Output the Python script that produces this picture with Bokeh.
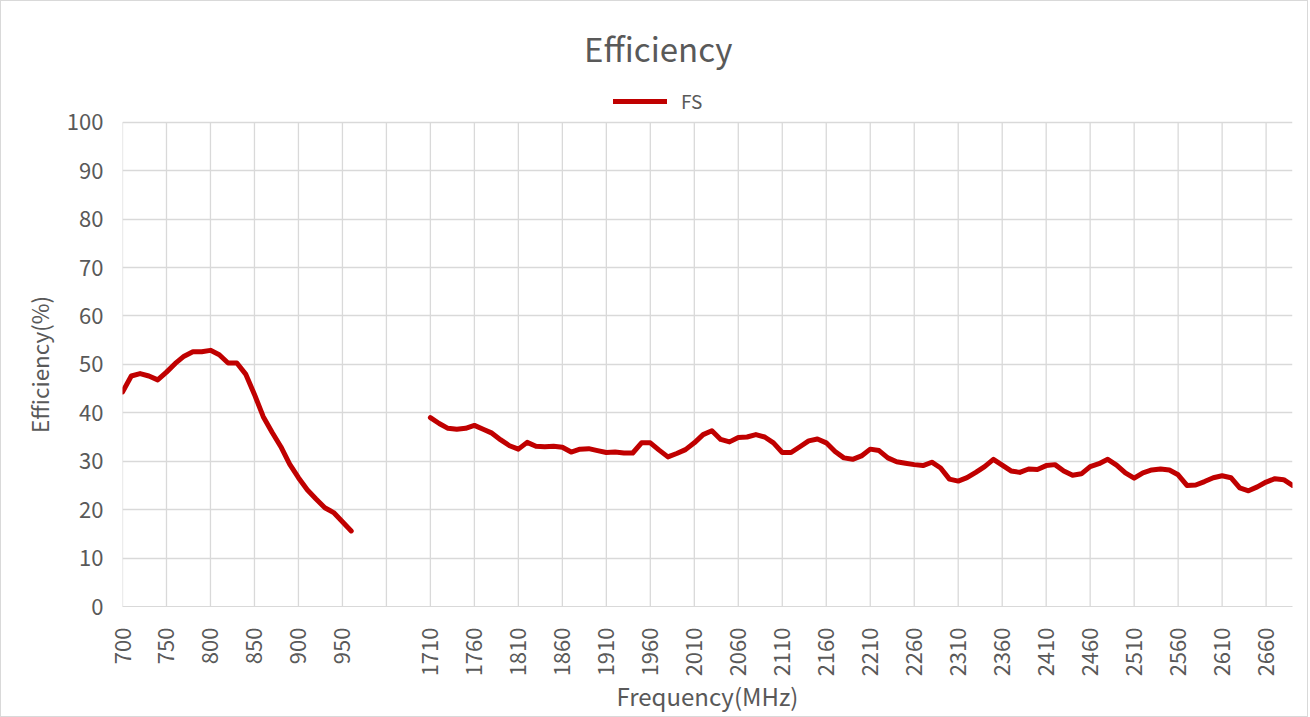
import math
from bokeh.plotting import figure
from bokeh.layouts import row
from bokeh.models import Range1d, FixedTicker, Legend, LegendItem, Label
from bokeh.embed import file_html
from bokeh.resources import INLINE

# ---- data ----
freq_low = [700, 710, 720, 730, 740, 750, 760, 770, 780, 790, 800, 810, 820, 830,
            840, 850, 860, 870, 880, 890, 900, 910, 920, 930, 940, 950, 960]
eff_low = [44.3, 47.6, 48.1, 47.6, 46.8, 48.4, 50.2, 51.7, 52.6, 52.6, 52.9, 52.0,
           50.3, 50.3, 48.0, 43.8, 39.2, 36.0, 33.0, 29.4, 26.6, 24.1, 22.2, 20.4,
           19.4, 17.5, 15.6]

freq_high = list(range(1710, 2700, 10))
eff_high = [39.0, 37.8, 36.8, 36.6, 36.8, 37.4, 36.6, 35.8, 34.4, 33.2,
            32.5, 33.9, 33.1, 33.0, 33.1, 32.9, 31.9, 32.5, 32.6, 32.2,
            31.8, 31.9, 31.7, 31.7, 33.8, 33.8, 32.3, 30.9, 31.6, 32.4,
            33.8, 35.5, 36.3, 34.5, 34.0, 34.9, 35.0, 35.5, 35.0, 33.8,
            31.8, 31.8, 33.0, 34.2, 34.6, 33.8, 32.0, 30.7, 30.4, 31.1,
            32.5, 32.2, 30.7, 29.9, 29.6, 29.3, 29.1, 29.8, 28.6, 26.3,
            25.9, 26.6, 27.7, 28.9, 30.4, 29.2, 28.0, 27.7, 28.4, 28.3,
            29.1, 29.3, 28.0, 27.1, 27.4, 28.9, 29.5, 30.4, 29.2, 27.6,
            26.5, 27.6, 28.2, 28.4, 28.2, 27.2, 25.0, 25.1, 25.8, 26.6,
            27.0, 26.6, 24.5, 23.9, 24.7, 25.7, 26.4, 26.2, 25.0]

n_blank = 8
categories = [str(f) for f in freq_low] + [""] * n_blank + [str(f) for f in freq_high]
y_ticks = list(range(0, 101, 10))
y_max = 100
series_name = "FS"
title_text = "Efficiency"
x_title = "Frequency(MHz)"
y_title = "Efficiency(%)"

TEXT = "#595959"
GRID = "#D9D9D9"
LINE = "#C00000"
FONT = "Noto Sans CJK SC"

x_low = [categories.index(str(f)) for f in freq_low]
x_high = [categories.index(str(f)) for f in freq_high]
x_ticks = list(range(0, len(categories), 5))

H = 715
LAB_W = 60
y_range = Range1d(0, 124.95)   # frame also holds the title/legend band above 100

# ---- chart ----
p = figure(width=1306 - LAB_W, height=H, output_backend="svg", toolbar_location=None,
           x_range=Range1d(0, len(categories) - 1), y_range=y_range,
           min_border_left=61, min_border_right=15, min_border_top=0,
           min_border_bottom=109)
p.outline_line_color = None
p.background_fill_color = "white"
p.border_fill_color = "white"

p.xaxis.ticker = FixedTicker(ticks=x_ticks)
p.xaxis.major_label_overrides = {i: categories[i] for i in x_ticks}
p.xaxis.major_label_orientation = math.pi / 2
p.yaxis.ticker = FixedTicker(ticks=y_ticks)
p.yaxis.bounds = (0, y_max)

for ax in (p.xaxis, p.yaxis):
    ax.major_tick_line_color = None
    ax.minor_tick_line_color = None
    ax.major_label_text_color = TEXT
    ax.major_label_text_font = FONT
    ax.major_label_text_font_size = "22px"
    ax.axis_label_text_color = TEXT
    ax.axis_label_text_font = FONT
    ax.axis_label_text_font_style = "normal"

p.xaxis.axis_line_color = GRID
p.yaxis.axis_line_color = None
p.xaxis.axis_label_text_font_size = "24px"
p.xaxis.major_label_standoff = 15
p.yaxis.major_label_standoff = 13
p.xaxis.axis_label = x_title
p.xaxis.axis_label_standoff = -1

# grid: horizontal lines from ticks, vertical lines limited to the 0..100 band
p.xgrid.visible = False
p.ygrid.ticker = FixedTicker(ticks=y_ticks)
p.ygrid.grid_line_color = GRID
p.ygrid.grid_line_width = 1.3
p.segment(x0=x_ticks, y0=[0] * len(x_ticks), x1=x_ticks, y1=[y_max] * len(x_ticks),
          line_color=GRID, line_width=1.3)

r1 = p.line(x_low, eff_low, line_color=LINE, line_width=5,
            line_join="round", line_cap="round")
r2 = p.line(x_high, eff_high, line_color=LINE, line_width=5,
            line_join="round", line_cap="round")

p.add_layout(Legend(items=[LegendItem(label=series_name, renderers=[r1, r2])],
                    location=(491, 492), orientation="horizontal",
                    border_line_color=None, background_fill_alpha=0,
                    glyph_width=54, glyph_height=20, label_standoff=14,
                    label_text_font=FONT, label_text_font_size="19px",
                    label_text_color=TEXT, padding=0, margin=0, spacing=0))

p.add_layout(Label(x=60.9, y=115.3, text=title_text, text_align="center",
                   text_baseline="middle", text_font=FONT, text_font_size="33px",
                   text_color=TEXT))

# ---- y-axis title strip (keeps the title centred on the 0..100 band) ----
ylab = figure(width=LAB_W, height=H, output_backend="svg", toolbar_location=None,
              x_range=Range1d(0, LAB_W), y_range=y_range,
              x_axis_type=None, y_axis_type=None, min_border=0)
ylab.outline_line_color = None
ylab.grid.visible = False
ylab.background_fill_color = "white"
ylab.border_fill_color = "white"
ylab.add_layout(Label(x=37, y=(y_ticks[0] + y_ticks[-1]) / 2, text=y_title,
                      angle=math.pi / 2, text_align="center", text_baseline="middle",
                      text_font=FONT, text_font_size="22.5px", text_color=TEXT))

layout = row(ylab, p, spacing=0, styles={"border": "1px solid #D9D9D9"})

open("out.html", "w").write(file_html(layout, INLINE))
